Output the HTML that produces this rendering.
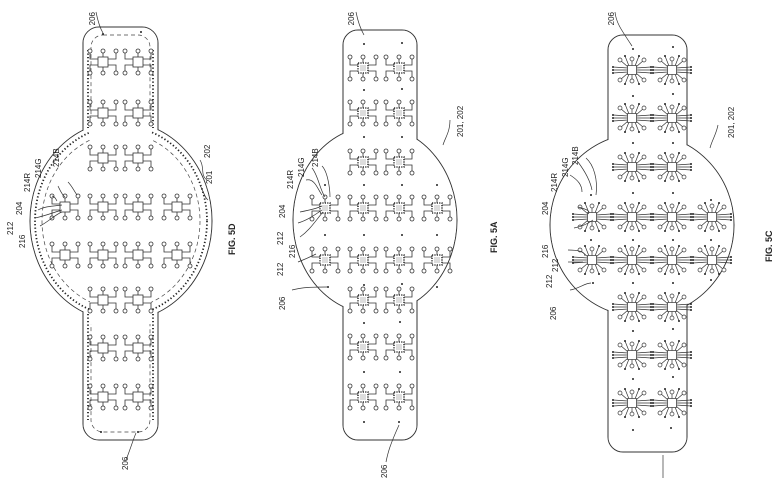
<!DOCTYPE html>
<html><head><meta charset="utf-8"><style>
html,body{margin:0;padding:0;background:#fff;}
svg{display:block;}
text{font-family:"Liberation Sans",sans-serif;font-size:8px;fill:#222;}
</style></head><body>
<svg width="780" height="478" viewBox="0 0 780 478" xmlns="http://www.w3.org/2000/svg">
<defs>
<g id="u" fill="#fff" stroke="#333" stroke-width="0.8">
  <path d="M0,-5V-9M0,5V9M-13,-9V-3H-5M13,-9V-3H5M-13,9V3H-5M13,9V3H5" fill="none"/>
  <rect x="-5" y="-5" width="10" height="10"/>
  <circle cx="-13" cy="-11" r="2"/><circle cx="0" cy="-11" r="2"/><circle cx="13" cy="-11" r="2"/>
  <circle cx="-13" cy="11" r="2"/><circle cx="0" cy="11" r="2"/><circle cx="13" cy="11" r="2"/>
</g>
<g id="ua" fill="#fff" stroke="#333" stroke-width="0.8">
  <path d="M0,-5V-9M0,5V9M-13,-9V-3H-5M13,-9V-3H5M-13,9V3H-5M13,9V3H5" fill="none"/>
  <rect x="-5" y="-5" width="10" height="10" stroke-width="1.6" stroke-dasharray="1.2 1.2"/>
  <rect x="-3" y="-3" width="6" height="6" stroke="none" fill="#ddd"/>
  <circle cx="-13" cy="-11" r="2"/><circle cx="0" cy="-11" r="2"/><circle cx="13" cy="-11" r="2"/>
  <circle cx="-13" cy="11" r="2"/><circle cx="0" cy="11" r="2"/><circle cx="13" cy="11" r="2"/>
</g>
<g id="uc" fill="#fff" stroke="#333" stroke-width="0.7">
  <path d="M0,-4L0,-13M-3,-4L-7,-14M3,-4L7,-14M-4,-3L-12,-10M4,-3L12,-10M0,4L0,13M-3,4L-7,14M3,4L7,14M-4,3L-12,10M4,3L12,10M-4,-2L-19,-3M-4,0L-19,0M-4,2L-19,3M4,-2L19,-3M4,0L19,0M4,2L19,3" fill="none"/>
  <rect x="-4.5" y="-4.5" width="9" height="9"/>
  <circle cx="0" cy="-11" r="2"/><circle cx="-12" cy="-10" r="2"/><circle cx="12" cy="-10" r="2"/>
  <circle cx="0" cy="11" r="2"/><circle cx="-12" cy="10" r="2"/><circle cx="12" cy="10" r="2"/>
  <g fill="#222" stroke="none"><circle cx="-7" cy="-14" r="1"/><circle cx="7" cy="-14" r="1"/><circle cx="-7" cy="14" r="1"/><circle cx="7" cy="14" r="1"/>
  <circle cx="-19" cy="-3" r="1"/><circle cx="-19" cy="0" r="1"/><circle cx="-19" cy="3" r="1"/><circle cx="19" cy="-3" r="1"/><circle cx="19" cy="0" r="1"/><circle cx="19" cy="3" r="1"/></g>
</g>
</defs>

<g stroke="#333" stroke-width="1" fill="none">
<ellipse cx="121" cy="221" rx="91" ry="100"/>
<rect x="83" y="27" width="75" height="413" rx="16"/>
<ellipse cx="375" cy="220" rx="82" ry="94"/>
<rect x="343" y="30" width="74" height="410" rx="15"/>
<ellipse cx="642" cy="225" rx="92" ry="92"/>
<rect x="608" y="35" width="79" height="417" rx="15"/>
</g>
<g fill="#fff" stroke="none">
<ellipse cx="121" cy="221" rx="90.5" ry="99.5"/><rect x="83.5" y="27.5" width="74" height="412" rx="15.5"/>
<ellipse cx="375" cy="220" rx="81.5" ry="93.5"/><rect x="343.5" y="30.5" width="73" height="409" rx="14.5"/>
<ellipse cx="642" cy="225" rx="91.5" ry="91.5"/><rect x="608.5" y="35.5" width="78" height="416" rx="14.5"/>
</g>

<!-- 5D inner dashed & dotted -->
<g fill="none" stroke="#444" stroke-width="0.7" stroke-dasharray="4 3">
<rect x="91" y="35" width="59" height="397" rx="12"/>
<ellipse cx="121" cy="221" rx="79" ry="88"/>
</g>
<g fill="none" stroke="#222" stroke-width="1.8" stroke-dasharray="1.3 2.2">
<path d="M88,50V128M153,50V128M88,314V420M153,314V420"/>
<ellipse cx="121" cy="221" rx="86" ry="95"/>
</g>
<rect x="90" y="118" width="61" height="206" fill="#fff"/>

<!-- 5D units -->
<use href="#u" x="103" y="62"/><use href="#u" x="138" y="62"/>
<use href="#u" x="103" y="113"/><use href="#u" x="138" y="113"/>
<use href="#u" x="103" y="158"/><use href="#u" x="138" y="158"/>
<use href="#u" x="65" y="207"/><use href="#u" x="103" y="207"/><use href="#u" x="138" y="207"/><use href="#u" x="177" y="207"/>
<use href="#u" x="65" y="255"/><use href="#u" x="103" y="255"/><use href="#u" x="138" y="255"/><use href="#u" x="177" y="255"/>
<use href="#u" x="103" y="300"/><use href="#u" x="138" y="300"/>
<use href="#u" x="103" y="348"/><use href="#u" x="138" y="348"/>
<use href="#u" x="103" y="397"/><use href="#u" x="138" y="397"/>
<g fill="#222"><circle cx="103" cy="34" r="1"/><circle cx="141" cy="32" r="1"/><circle cx="101" cy="432" r="1"/><circle cx="138" cy="432" r="1"/></g>

<!-- 5A units -->
<use href="#ua" x="363" y="68"/><use href="#ua" x="399" y="68"/>
<use href="#ua" x="363" y="113"/><use href="#ua" x="399" y="113"/>
<use href="#ua" x="363" y="162"/><use href="#ua" x="399" y="162"/>
<use href="#ua" x="325" y="208"/><use href="#ua" x="363" y="208"/><use href="#ua" x="399" y="208"/><use href="#ua" x="437" y="208"/>
<use href="#ua" x="325" y="260"/><use href="#ua" x="363" y="260"/><use href="#ua" x="399" y="260"/><use href="#ua" x="437" y="260"/>
<use href="#ua" x="363" y="300"/><use href="#ua" x="399" y="300"/>
<use href="#ua" x="363" y="347"/><use href="#ua" x="399" y="347"/>
<use href="#ua" x="363" y="397"/><use href="#ua" x="399" y="397"/>
<g fill="#222">
<circle cx="364" cy="44" r="1"/><circle cx="402" cy="43" r="1"/>
<circle cx="364" cy="90" r="1"/><circle cx="402" cy="89" r="1"/>
<circle cx="364" cy="137" r="1"/><circle cx="402" cy="137" r="1"/>
<circle cx="325" cy="185" r="1"/><circle cx="364" cy="185" r="1"/><circle cx="402" cy="185" r="1"/><circle cx="437" cy="185" r="1"/>
<circle cx="325" cy="235" r="1"/><circle cx="364" cy="235" r="1"/><circle cx="402" cy="235" r="1"/><circle cx="437" cy="235" r="1"/>
<circle cx="328" cy="287" r="1"/><circle cx="364" cy="285" r="1"/><circle cx="402" cy="284" r="1"/><circle cx="437" cy="287" r="1"/>
<circle cx="364" cy="323" r="1"/><circle cx="400" cy="322" r="1"/>
<circle cx="364" cy="372" r="1"/><circle cx="400" cy="372" r="1"/>
<circle cx="364" cy="422" r="1"/><circle cx="399" cy="422" r="1"/>
</g>

<!-- 5C units -->
<use href="#uc" x="632" y="70"/><use href="#uc" x="672" y="70"/>
<use href="#uc" x="632" y="118"/><use href="#uc" x="672" y="118"/>
<use href="#uc" x="632" y="167"/><use href="#uc" x="672" y="167"/>
<use href="#uc" x="592" y="217"/><use href="#uc" x="632" y="217"/><use href="#uc" x="672" y="217"/><use href="#uc" x="712" y="217"/>
<use href="#uc" x="592" y="260"/><use href="#uc" x="632" y="260"/><use href="#uc" x="672" y="260"/><use href="#uc" x="712" y="260"/>
<use href="#uc" x="632" y="307"/><use href="#uc" x="672" y="307"/>
<use href="#uc" x="632" y="355"/><use href="#uc" x="672" y="355"/>
<use href="#uc" x="632" y="403"/><use href="#uc" x="672" y="403"/>
<g fill="#222">
<circle cx="633" cy="49" r="1"/><circle cx="673" cy="47" r="1"/>
<circle cx="633" cy="96" r="1"/><circle cx="673" cy="94" r="1"/>
<circle cx="633" cy="143" r="1"/><circle cx="673" cy="143" r="1"/>
<circle cx="591" cy="195" r="1"/><circle cx="633" cy="193" r="1"/><circle cx="673" cy="193" r="1"/><circle cx="711" cy="200" r="1"/>
<circle cx="591" cy="240" r="1"/><circle cx="633" cy="240" r="1"/><circle cx="673" cy="240" r="1"/><circle cx="711" cy="240" r="1"/>
<circle cx="593" cy="283" r="1"/><circle cx="633" cy="283" r="1"/><circle cx="673" cy="283" r="1"/><circle cx="711" cy="280" r="1"/>
<circle cx="633" cy="331" r="1"/><circle cx="673" cy="329" r="1"/>
<circle cx="633" cy="379" r="1"/><circle cx="673" cy="377" r="1"/>
<circle cx="633" cy="430" r="1"/><circle cx="671" cy="428" r="1"/>
</g>

<!-- leader lines -->
<g fill="none" stroke="#333" stroke-width="0.7">
<path d="M96,12 C98,22 100,28 103,33"/><path d="M126,460 C130,450 133,440 136,433"/>
<path d="M200,160 C205,168 200,175 207,180"/><path d="M200,185 C205,195 205,198 208,200"/>
<path d="M38,210 C45,206 55,206 62,205"/><path d="M35,218 C45,216 55,212 62,210"/><path d="M40,226 C48,222 56,214 62,212"/>
<path d="M52,196 C56,197 56,200 57,201"/><path d="M58,186 C60,190 62,195 65,197"/><path d="M68,182 C72,186 74,191 77,195"/>
<path d="M356,12 C358,22 360,28 364,35"/><path d="M386,462 C388,452 390,445 399,425"/>
<path d="M450,120 C450,132 445,138 443,145"/>
<path d="M300,212 C310,210 318,208 322,206"/><path d="M298,223 C308,220 316,214 322,210"/><path d="M300,237 C310,230 316,220 323,212"/>
<path d="M306,180 C315,178 318,190 322,195"/><path d="M312,168 C318,175 320,190 325,197"/><path d="M322,166 C328,172 330,190 330,197"/>
<path d="M298,262 C308,258 312,256 316,254"/><path d="M292,290 C300,288 305,287 327,287"/>
<path d="M615,12 C616,22 620,28 632,46"/><path d="M663,455 L663,478"/>
<path d="M718,125 C716,135 712,140 710,148"/>
<path d="M578,207 C590,210 590,212 588,214"/><path d="M574,228 C585,226 590,222 593,220"/>
<path d="M570,175 C578,180 582,185 582,192"/><path d="M578,162 C584,170 590,180 592,190"/><path d="M586,158 C594,165 598,180 596,195"/>
<path d="M568,250 C580,250 585,252 585,256"/><path d="M568,262 C578,262 582,262 583,262"/><path d="M570,290 C578,289 585,283 591,283"/>
</g>

<g>
<text transform="translate(95,12) rotate(-90)" text-anchor="end">206</text>
<text transform="translate(128,470) rotate(-90)">206</text>
<text transform="translate(210,158) rotate(-90)">202</text>
<text transform="translate(212,184) rotate(-90)">201</text>
<text transform="translate(22,215) rotate(-90)">204</text>
<text transform="translate(30,192) rotate(-90)">214R</text>
<text transform="translate(41,178) rotate(-90)">214G</text>
<text transform="translate(59,167) rotate(-90)">214B</text>
<text transform="translate(13,235) rotate(-90)">212</text>
<text transform="translate(25,248) rotate(-90)">216</text>
<text transform="translate(235,255) rotate(-90)" style="font-weight:bold;font-size:9px">FIG. 5D</text>

<text transform="translate(354,12) rotate(-90)" text-anchor="end">206</text>
<text transform="translate(387,478) rotate(-90)">206</text>
<text transform="translate(463,137) rotate(-90)">201, 202</text>
<text transform="translate(285,218) rotate(-90)">204</text>
<text transform="translate(293,189) rotate(-90)">214R</text>
<text transform="translate(304,177) rotate(-90)">214G</text>
<text transform="translate(318,167) rotate(-90)">214B</text>
<text transform="translate(283,245) rotate(-90)">212</text>
<text transform="translate(295,258) rotate(-90)">216</text>
<text transform="translate(283,276) rotate(-90)">212</text>
<text transform="translate(285,310) rotate(-90)">206</text>
<text transform="translate(497,253) rotate(-90)" style="font-weight:bold;font-size:9px">FIG. 5A</text>

<text transform="translate(614,12) rotate(-90)" text-anchor="end">206</text>
<text transform="translate(734,138) rotate(-90)">201, 202</text>
<text transform="translate(548,215) rotate(-90)">204</text>
<text transform="translate(557,192) rotate(-90)">214R</text>
<text transform="translate(568,177) rotate(-90)">214G</text>
<text transform="translate(578,165) rotate(-90)">214B</text>
<text transform="translate(548,258) rotate(-90)">216</text>
<text transform="translate(558,272) rotate(-90)">212</text>
<text transform="translate(552,288) rotate(-90)">212</text>
<text transform="translate(556,320) rotate(-90)">206</text>
<text transform="translate(772,262) rotate(-90)" style="font-weight:bold;font-size:9px">FIG. 5C</text>
</g>
</svg>
</body></html>
